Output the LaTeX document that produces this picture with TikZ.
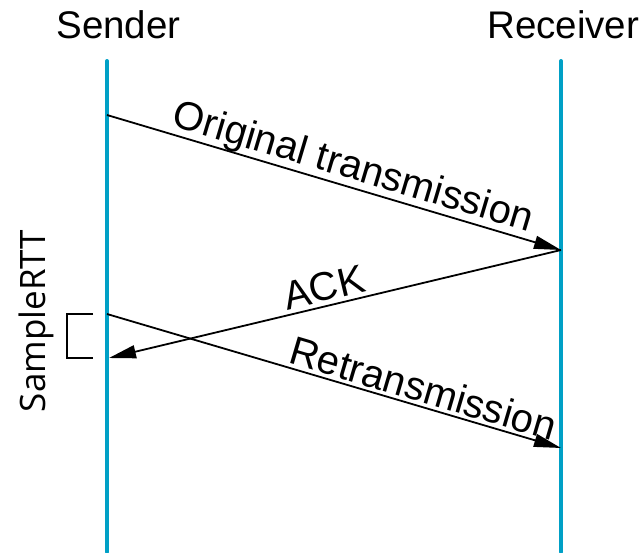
\documentclass[tikz,border=0pt]{standalone}
\usepackage{fontspec}
\setmainfont{Liberation Sans}
\newfontfamily\rttfont{Open Sans}
\usetikzlibrary{arrows.meta}
\definecolor{life}{RGB}{0,160,198}
\tikzset{
  lifeline/.style={draw=life,line width=4pt,line cap=round},
  msg/.style={draw=black,line width=1.8pt,-{Triangle[length=27pt,width=13pt]}},
  head/.style={font=\fontsize{38.5}{40}\selectfont,inner sep=0pt,anchor=base},
  lbl/.style={font=\fontsize{40}{42}\selectfont,inner sep=0pt,anchor=south},
}
\begin{document}
\begin{tikzpicture}[x=1pt,y=-1pt]
\useasboundingbox (0,0) rectangle (642,552);
\node[head] (sender) at (118.5,38) {Sender};
\node[head,anchor=base west] (receiver) at (487,38) {Receiver};
\coordinate (st) at (107,61);
\coordinate (sb) at (107,552);
\coordinate (rt) at (561,61);
\coordinate (rb) at (561,552);
\draw[lifeline] (st) -- (sb);
\draw[lifeline] (rt) -- (rb);
\coordinate (o1) at (107,115);
\coordinate (o2) at (561,250);
\coordinate (a2) at (109,358);
\coordinate (r1) at (107,314);
\coordinate (r2) at (561,448);
\draw[msg] (o1) -- (o2) node[lbl,pos=0.53,sloped,above=-1pt] (olbl) {Original transmission};
\draw[msg] (o2) -- (a2) node[lbl,pos=0.515,sloped,above=4pt] (albl) {ACK};
\draw[msg] (r1) -- (r2) node[lbl,pos=0.685,sloped,above=3pt] (rlbl) {Retransmission};
\coordinate (b1) at (93,314);
\coordinate (b2) at (67,314);
\coordinate (b3) at (67,358);
\coordinate (b4) at (93,358);
\draw[line width=1.3pt] (b1) -- (b2) -- (b3) -- (b4);
\node[font=\rttfont\fontsize{35}{38}\selectfont,rotate=90,inner sep=0pt] (rtt) at (36,321) {SampleRTT};
\end{tikzpicture}
\end{document}
